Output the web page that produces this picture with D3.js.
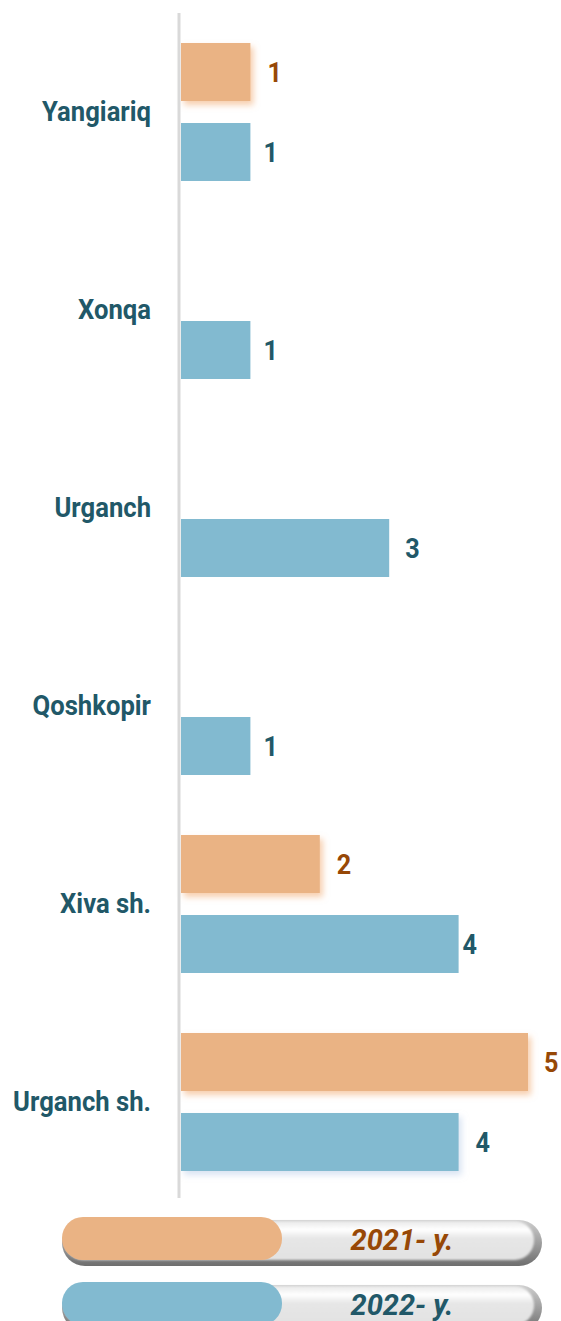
<!DOCTYPE html>
<html>
<head>
<meta charset="utf-8">
<script src="https://cdn.jsdelivr.net/npm/d3@7"></script>
<style>
  body { margin: 0; background: #fff; }
  text { font-family: "Roboto", sans-serif; font-weight: 700; }
</style>
</head>
<body>
<div id="chart"></div>
<script>
// data
var categories = ["Yangiariq", "Xonqa", "Urganch", "Qoshkopir", "Xiva sh.", "Urganch sh."];
var series = ["2021- y.", "2022- y."];
var values2021 = [1, null, null, null, 2, 5];
var values2022 = [1, 1, 3, 1, 4, 4];
var valueOffsets2021 = [17, 0, 0, 0, 17, 16];
var valueOffsets2022 = [13, 13, 16, 13, 4, 17];

var colors = ["#eab384", "#82bad0"];
var textColors = ["#974806", "#215868"];

var W = 561, H = 1321;

var svg = d3.select("#chart").append("svg")
  .attr("width", W)
  .attr("height", H);

var defs = svg.append("defs");

// soft glow under the bars
function glow (id, color) {
  var f = defs.append("filter").attr("id", id)
    .attr("x", "-10%").attr("y", "-30%").attr("width", "125%").attr("height", "170%");
  f.append("feDropShadow")
    .attr("dx", 3).attr("dy", 4).attr("stdDeviation", 3)
    .attr("flood-color", color).attr("flood-opacity", 0.55);
}
glow("glowOrange", "#f0a56a");
glow("glowBlue", "#b9cde8");

var soft = defs.append("filter").attr("id", "soft");
soft.append("feGaussianBlur").attr("stdDeviation", 1.2);

var rimGrad = defs.append("linearGradient").attr("id", "rim")
  .attr("x1", 0).attr("y1", 0).attr("x2", 0).attr("y2", 1);
rimGrad.append("stop").attr("offset", "0%").attr("stop-color", "#cfcfcf");
rimGrad.append("stop").attr("offset", "100%").attr("stop-color", "#6e6e6e");

var bodyGrad = defs.append("linearGradient").attr("id", "body")
  .attr("x1", 0).attr("y1", 0).attr("x2", 0).attr("y2", 1);
bodyGrad.append("stop").attr("offset", "0%").attr("stop-color", "#e8e8e8");
bodyGrad.append("stop").attr("offset", "22%").attr("stop-color", "#ffffff");
bodyGrad.append("stop").attr("offset", "45%").attr("stop-color", "#e6e6e6");
bodyGrad.append("stop").attr("offset", "100%").attr("stop-color", "#e2e2e2");

var x = d3.scaleLinear().domain([0, 5]).range([181, 528]);

var y0 = d3.scaleBand().domain(categories)
  .range([13, 13 + 6 * 198])
  .paddingInner(60 / 198).paddingOuter(0.5 * 60 / 198);

var y1 = d3.scaleBand().domain(series)
  .range([0, y0.bandwidth()])
  .paddingInner(22 / 80).paddingOuter(0);

var rows = [];
categories.forEach(function (c, i) {
  [values2021, values2022].forEach(function (vals, s) {
    if (vals[i] == null) return;
    rows.push({
      cat: c, s: s, value: vals[i],
      off: s === 0 ? valueOffsets2021[i] : valueOffsets2022[i]
    });
  });
});

// bars
svg.selectAll(".bar").data(rows).enter()
  .append("rect")
    .attr("class", "bar")
    .attr("x", x(0))
    .attr("y", function (d) { return y0(d.cat) + y1(series[d.s]); })
    .attr("width", function (d) { return x(d.value) - x(0); })
    .attr("height", y1.bandwidth())
    .attr("fill", function (d) { return colors[d.s]; })
    .attr("filter", function (d) {
      if (d.s === 0) return "url(#glowOrange)";
      return d.cat === "Urganch sh." ? "url(#glowBlue)" : null;
    });

// value labels (condensed look: squeeze horizontally)
svg.selectAll(".val").data(rows).enter()
  .append("text")
    .attr("class", "val")
    .attr("transform", function (d) {
      var ty = y0(d.cat) + y1(series[d.s]) + y1.bandwidth() / 2 + 10;
      return "translate(" + (x(d.value) + d.off) + "," + ty + ") scale(0.9,1)";
    })
    .attr("font-size", "28px")
    .attr("fill", function (d) { return textColors[d.s]; })
    .text(function (d) { return d.value; });

// vertical axis line
svg.append("line")
  .attr("x1", 179).attr("x2", 179)
  .attr("y1", 13).attr("y2", 1198)
  .attr("stroke", "#d9d9d9")
  .attr("stroke-width", 3);

// category labels
svg.selectAll(".cat").data(categories).enter()
  .append("text")
    .attr("class", "cat")
    .attr("transform", function (d) {
      return "translate(151," + (y0(d) + y0.bandwidth() / 2 + 9) + ") scale(0.95,1)";
    })
    .attr("text-anchor", "end")
    .attr("font-size", "27px")
    .attr("fill", "#215868")
    .text(function (d) { return d; });

// legend pills
var legend = svg.selectAll(".leg").data(series).enter()
  .append("g")
    .attr("class", "leg")
    .attr("transform", function (d, i) { return "translate(62," + (1217 + i * 65) + ")"; });

legend.append("rect")
  .attr("x", 0).attr("y", 3)
  .attr("width", 480).attr("height", 46)
  .attr("rx", 23)
  .attr("fill", "url(#rim)");

legend.append("rect")
  .attr("x", 2).attr("y", 4)
  .attr("width", 470).attr("height", 39)
  .attr("rx", 19.5)
  .attr("fill", "url(#body)")
  .attr("filter", "url(#soft)");

legend.append("rect")
  .attr("x", 0).attr("y", 0)
  .attr("width", 220).attr("height", 43)
  .attr("rx", 21)
  .attr("fill", function (d, i) { return colors[i]; });

legend.append("text")
  .attr("transform", "translate(340,33)")
  .attr("text-anchor", "middle")
  .attr("font-size", "29px")
  .attr("font-style", "italic")
  .attr("fill", function (d, i) { return textColors[i]; })
  .text(function (d) { return d; });
</script>
</body>
</html>
